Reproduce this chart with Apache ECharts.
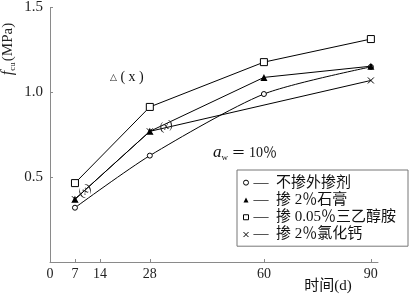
<!DOCTYPE html>
<html><head><meta charset="utf-8">
<script src="https://cdn.jsdelivr.net/npm/echarts@6/dist/echarts.min.js"></script>
<style>html,body{margin:0;padding:0;background:#fff}#c{width:410px;height:295px}</style>
</head><body><div id="c"></div>
<script>
var days = [7, 28, 60, 90];
var xTicks = [0, 7, 14, 28, 60, 90];
var seriesNames = ['不掺外掺剂', '掺 2％石膏', '掺 0.05％三乙醇胺', '掺 2％氯化钙'];
var noAdditive = [0.32, 0.627, 0.99, 1.15];
var gypsum = [0.37, 0.77, 1.088, 1.154];
var tea = [0.465, 0.914, 1.178, 1.314];
var cacl2 = [0.37, 0.77, null, 1.07];

var FONT = '"Liberation Serif", "Noto Sans CJK SC", serif';
function pairs(vals) { return days.map(function (d, i) { return vals[i] == null ? [d, '-'] : [d, vals[i]]; }); }
var crossPath = 'path://M0,0L10,10M10,0L0,10';

var chart = echarts.init(document.getElementById('c'));
var cacl2Data = pairs(cacl2).map(function (p, i) {
  var item = { value: p };
  if (i === 0) item.label = { show: true, position: 'inside', formatter: '(x)', offset: [13, 0], rotate: 40 };
  if (i === 1) item.label = { show: true, position: 'inside', formatter: '(x)', offset: [17, 0], rotate: 18 };
  return item;
});
chart.setOption({
  animation: false,
  textStyle: { fontFamily: FONT },
  grid: { left: 50, right: 32, top: 6, bottom: 33 },
  xAxis: {
    type: 'value', min: 0, max: 92,
    axisLine: { lineStyle: { color: '#8a8a8a', width: 1 } },
    axisTick: { inside: true, length: 3, customValues: xTicks, lineStyle: { color: '#8a8a8a' } },
    axisLabel: { customValues: xTicks, color: '#222', fontSize: 14, margin: 5, fontFamily: FONT },
    splitLine: { show: false }
  },
  yAxis: {
    type: 'value', min: 0, max: 1.5, interval: 0.5,
    axisLine: { show: true, lineStyle: { color: '#8a8a8a', width: 1 } },
    axisTick: { show: true, inside: true, length: 3, lineStyle: { color: '#8a8a8a' } },
    axisLabel: { color: '#222', fontSize: 15, margin: 7, fontFamily: FONT,
      formatter: function (v) { return v === 0 ? '' : v.toFixed(1); } },
    splitLine: { show: false }
  },
  legend: {
    orient: 'vertical', left: 237, top: 170, selectedMode: false,
    borderColor: '#777', borderWidth: 1, padding: [4, 12, 3, 6],
    itemWidth: 5, itemHeight: 5, itemGap: 0,
    textStyle: { fontSize: 15, color: '#111', lineHeight: 17.3, fontFamily: FONT },
    formatter: function (n) { return '—  ' + n; },
    data: [
      { name: seriesNames[0], icon: 'circle', itemStyle: { color: '#fff', borderColor: '#000', borderWidth: 1 } },
      { name: seriesNames[1], icon: 'triangle', itemStyle: { color: '#000', borderWidth: 0 } },
      { name: seriesNames[2], icon: 'rect', itemStyle: { color: '#fff', borderColor: '#000', borderWidth: 1 } },
      { name: seriesNames[3], icon: crossPath, itemStyle: { color: '#000', borderColor: '#000', borderWidth: 1 } }
    ]
  },
  series: [
    { name: seriesNames[3], type: 'line', data: cacl2Data, connectNulls: true,
      symbol: crossPath, symbolSize: 6,
      lineStyle: { color: '#000', width: 1 },
      itemStyle: { color: '#000', borderColor: '#000', borderWidth: 1 },
      label: { fontSize: 12, color: '#222', fontStyle: 'italic', fontFamily: FONT } },
    { name: seriesNames[0], type: 'line', data: pairs(noAdditive), smooth: 0.25,
      symbol: 'circle', symbolSize: 5,
      lineStyle: { color: '#000', width: 1 },
      itemStyle: { color: '#fff', borderColor: '#000', borderWidth: 1 } },
    { name: seriesNames[1], type: 'line', data: pairs(gypsum),
      symbol: 'triangle', symbolSize: 7,
      lineStyle: { color: '#000', width: 1 },
      itemStyle: { color: '#000', borderWidth: 0 } },
    { name: seriesNames[2], type: 'line', data: pairs(tea),
      symbol: 'rect', symbolSize: 7,
      lineStyle: { color: '#000', width: 1 },
      itemStyle: { color: '#fff', borderColor: '#000', borderWidth: 1 } }
  ],
  graphic: [
    { type: 'text', x: 8, y: 49, rotation: Math.PI / 2,
      style: { text: '{f|f}{s|cu}{m|(MPa)}', align: 'center', verticalAlign: 'middle', fill: '#222',
        rich: {
          f: { fontSize: 16, fontStyle: 'italic', fontFamily: FONT, lineHeight: 18, verticalAlign: 'middle', fill: '#222' },
          s: { fontSize: 9, fontFamily: FONT, lineHeight: 18, verticalAlign: 'bottom', padding: [0, 1, 0, 0], fill: '#222' },
          m: { fontSize: 15, fontFamily: FONT, lineHeight: 18, verticalAlign: 'middle', fill: '#222' }
        } } },
    { type: 'text', x: 328, y: 286,
      style: { text: '时间(d)', align: 'center', verticalAlign: 'middle', fontSize: 15, fontFamily: FONT, fill: '#111' } },
    { type: 'text', x: 213, y: 153,
      style: { text: '{a|a}{w|w}{t| ＝ 10％}', verticalAlign: 'middle', fill: '#111',
        rich: {
          a: { fontSize: 17, fontStyle: 'italic', fontFamily: FONT, lineHeight: 18, verticalAlign: 'middle', fill: '#111' },
          w: { fontSize: 9, fontFamily: FONT, lineHeight: 18, verticalAlign: 'bottom', fill: '#111' },
          t: { fontSize: 14, fontFamily: FONT, lineHeight: 18, verticalAlign: 'middle', fill: '#111' }
        } } },
    { type: 'text', x: 110, y: 77,
      style: { text: '{t|△}{p| ( x )}', verticalAlign: 'middle', fill: '#111',
        rich: {
          t: { fontSize: 9, fontFamily: '"DejaVu Sans"', fontWeight: 'bold', fill: '#111', padding: [2, 0, 0, 0] },
          p: { fontSize: 14, fontFamily: FONT, fill: '#111' }
        } } }
  ]
});
</script></body></html>
